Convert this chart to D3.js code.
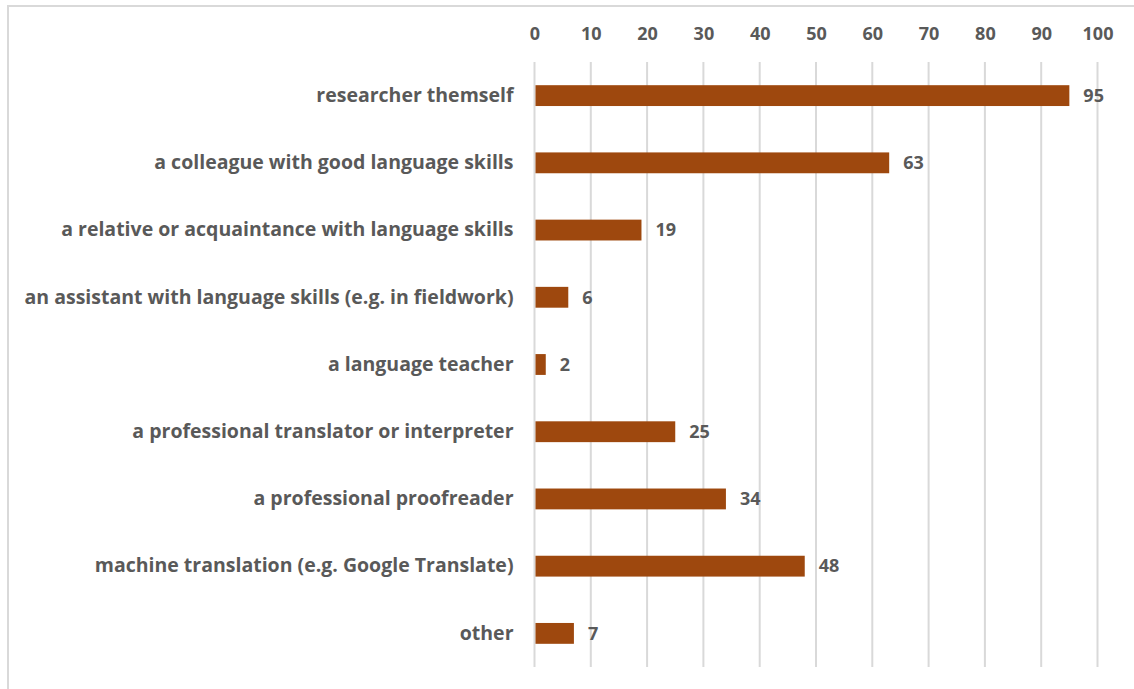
<!DOCTYPE html>
<html>
<head>
<meta charset="utf-8">
<script src="https://cdn.jsdelivr.net/npm/d3@7"></script>
<style>
  html, body { margin: 0; padding: 0; background: #fff; }
  svg { display: block; }
  text { font-family: "Open Sans", Lato, sans-serif; font-weight: bold; fill: #595959; }
</style>
</head>
<body>
<svg id="chart" width="1134" height="689"></svg>
<script>
// Who does the language work: share of respondents (%)
const categories = [
  "researcher themself",
  "a colleague with good language skills",
  "a relative or acquaintance with language skills",
  "an assistant with language skills (e.g. in fieldwork)",
  "a language teacher",
  "a professional translator or interpreter",
  "a professional proofreader",
  "machine translation (e.g. Google Translate)",
  "other"
];
const values = [95, 63, 19, 6, 2, 25, 34, 48, 7];
const tickValues = [0, 10, 20, 30, 40, 50, 60, 70, 80, 90, 100];

const svg = d3.select("#chart");
const W = 1134, H = 689;
const labelSize = 19.5;
const numberSize = 18;

// Chart frame (open at right/bottom edges of the view)
svg.append("rect")
  .attr("x", 8).attr("y", 6)
  .attr("width", W + 10).attr("height", H + 10)
  .attr("fill", "none")
  .attr("stroke", "#d9d9d9")
  .attr("stroke-width", 2);

const plot = { left: 534.5, right: 1097.5, top: 62, bottom: 667 };

const x = d3.scaleLinear().domain([0, 100]).range([plot.left, plot.right]);
const y = d3.scaleBand().domain(categories).range([plot.top, plot.bottom]).paddingInner(0.69).paddingOuter(0.345);

// Vertical gridlines
svg.append("g")
  .selectAll("line")
  .data(tickValues)
  .join("line")
  .attr("x1", d => x(d)).attr("x2", d => x(d))
  .attr("y1", plot.top).attr("y2", plot.bottom)
  .attr("stroke", "#d9d9d9")
  .attr("stroke-width", 2);

// Top value axis
const xAxis = d3.axisTop(x).tickValues(tickValues).tickSize(0).tickPadding(0);
const gx = svg.append("g").attr("transform", `translate(0, 40)`).call(xAxis);
gx.select(".domain").remove();
gx.selectAll("text")
  .attr("font-size", numberSize)
  .attr("font-family", null)
  .attr("fill", null);

// Category axis
const yAxis = d3.axisLeft(y).tickSize(0).tickPadding(21);
const gy = svg.append("g").attr("transform", `translate(${plot.left}, 0)`).call(yAxis);
gy.select(".domain").remove();
gy.selectAll("text")
  .attr("font-size", labelSize)
  .attr("font-family", null)
  .attr("fill", null);

// Bars
svg.append("g")
  .selectAll("rect")
  .data(values)
  .join("rect")
  .attr("x", x(0) + 1)
  .attr("y", (d, i) => y(categories[i]))
  .attr("width", d => x(d) - x(0) - 1)
  .attr("height", y.bandwidth())
  .attr("fill", "#9E480E");

// Value labels
svg.append("g")
  .selectAll("text")
  .data(values)
  .join("text")
  .attr("x", d => x(d) + 14)
  .attr("y", (d, i) => y(categories[i]) + y.bandwidth() / 2)
  .attr("dy", "0.35em")
  .attr("font-size", numberSize)
  .text(d => d);
</script>
</body>
</html>
